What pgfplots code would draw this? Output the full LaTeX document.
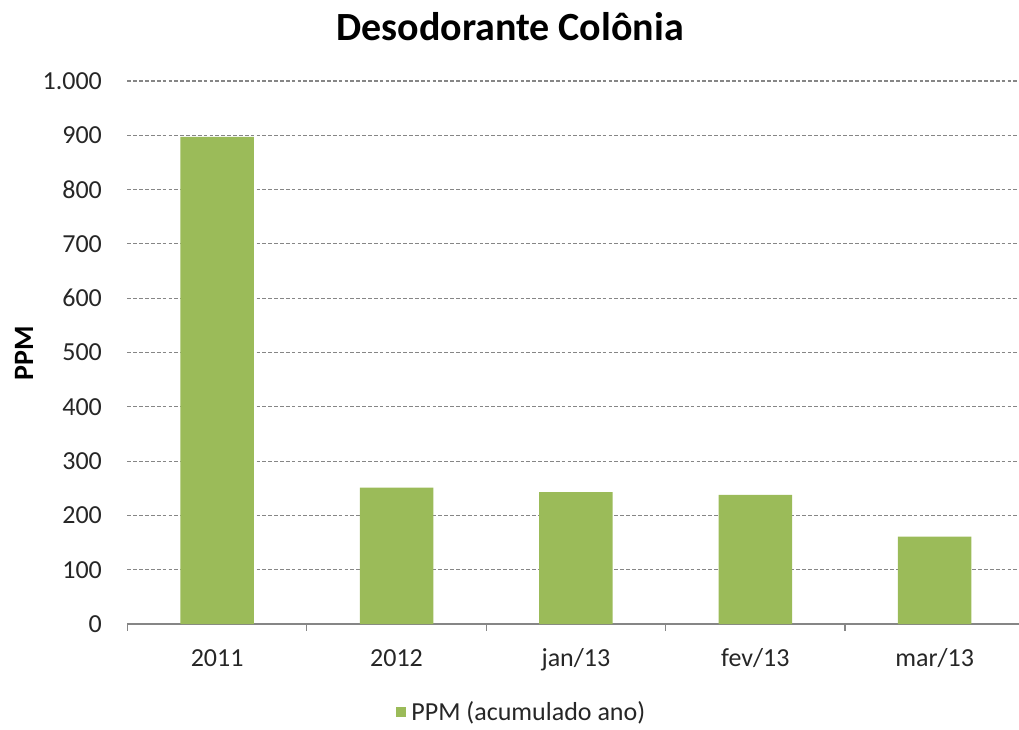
\documentclass[border=0pt]{standalone}
\usepackage{pgfplots}
\pgfplotsset{compat=1.18}
\usepackage{fontspec}
\setmainfont{Carlito}
\definecolor{bargreen}{RGB}{155,187,89}
\definecolor{gridgrey}{RGB}{134,134,134}
\begin{document}
\begin{tikzpicture}
\useasboundingbox (-95.6pt,-78.75pt) rectangle (668.6pt,468pt);
\begin{axis}[
  at={(0,0)}, anchor=south west,
  scale only axis,
  width=668.6pt, height=407.25pt,
  xmin=-0.5, xmax=4.47,
  ymin=0, ymax=1000,
  ytick={0,100,...,1000},
  xtick={0,1,2,3,4},
  xticklabels={2011,2012,jan/13,fev/13,mar/13},
  minor xtick={-0.5,0.5,1.5,2.5,3.5},
  axis lines*=left,
  y axis line style={draw=none},
  x axis line style={draw=gridgrey, line width=1pt},
  xtick style={draw=none},
  minor x tick style={draw=gridgrey, line width=0.8pt},
  minor tick length=5pt,
  tick align=outside,
  ytick style={draw=none},
  major tick length=0pt,
  ymajorgrids,
  grid style={draw=gridgrey, line width=0.8pt, dash pattern=on 2.8pt off 1.6pt},
  /pgf/number format/.cd, use comma, 1000 sep={.}, assume math mode=true,
  /pgfplots/.cd,
  ticklabel style={font=\fontsize{19.5}{22}\selectfont, text=black!85},
  yticklabel style={anchor=east, inner sep=0pt, xshift=-19pt},
  xticklabel style={anchor=base, inner sep=0pt, yshift=-32pt},
  ybar, bar width=0.41,
  legend style={at={(axis description cs:0.4425,-0.162)}, anchor=center, draw=none,
    font=\fontsize{19.5}{22}\selectfont, text=black!85, inner sep=0pt,
    /tikz/every even column/.append style={column sep=2pt}},
  legend image code/.code={\fill[bargreen] (0pt,-3.8pt) rectangle (7.6pt,3.8pt);},
  axis on top=false,
]
\addplot[fill=bargreen, draw=none] coordinates {(0,897) (1,251) (2,243) (3,238) (4,161)};
\addlegendentry{\hspace{2pt}PPM (acumulado ano)}
\end{axis}
\node[anchor=base, font=\fontsize{30}{34}\selectfont\bfseries] at (286.9pt,438pt) {Desodorante Colônia};
\node[rotate=90, font=\fontsize{21}{24}\selectfont\bfseries] at (-77.6pt,203pt) {PPM};
\end{tikzpicture}
\end{document}
